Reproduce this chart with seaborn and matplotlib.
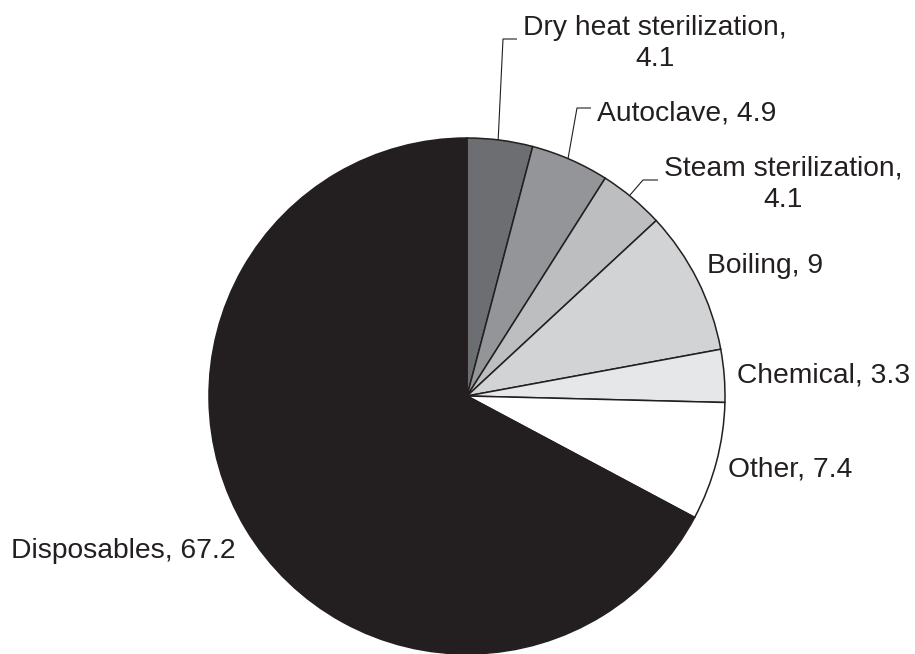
import numpy as np
import matplotlib
matplotlib.use("Agg")
import matplotlib.pyplot as plt
import seaborn as sns

# ---- data ----
categories = ["Dry heat sterilization", "Autoclave", "Steam sterilization",
              "Boiling", "Chemical", "Other", "Disposables"]
values = [4.1, 4.9, 4.1, 9, 3.3, 7.4, 67.2]
label_texts = ["Dry heat sterilization,\n4.1", "Autoclave, 4.9",
               "Steam sterilization,\n4.1", "Boiling, 9", "Chemical, 3.3",
               "Other, 7.4", "Disposables, 67.2"]
colors = ["#6d6e71", "#939598", "#bcbec0", "#d1d3d4", "#e6e7e8",
          "#ffffff", "#231f20"]

sns.set_style("white")
plt.rcParams['font.family'] = ['Liberation Sans', 'DejaVu Sans']

W, H = 915, 654
fig = plt.figure(figsize=(W / 100, H / 100), dpi=100)
ax = fig.add_axes([0, 0, 1, 1])

def Y(py):
    return H - py

cx, cy, r = 467, Y(396), 258
ink = "#231f20"

wedges, _ = ax.pie(values, colors=colors, startangle=90, counterclock=False,
                   center=(cx, cy), radius=r, frame=True,
                   wedgeprops=dict(edgecolor=ink, linewidth=1.1))
ax.set_xlim(0, W)
ax.set_ylim(0, H)
ax.set_aspect("equal")
ax.axis("off")

# label positions (pixel coords): (x, baseline y of last line, ha)
label_pos = [
    (655, 66, "center"),
    (597, 121, "left"),
    (783, 207, "center"),
    (707, 273, "left"),
    (737, 382, "left"),
    (728, 476, "left"),
    (11, 558, "left"),
]
fs = 20.3
for (x, by, ha), txt in zip(label_pos, label_texts):
    ax.text(x, Y(by), txt, ha=ha, va="baseline", fontsize=fs, color=ink,
            linespacing=1.27, multialignment="center")

# leader lines for the three small top slices (elbow points, pixel coords)
leaders = {
    0: [(503, 39), (517, 39)],
    1: [(577, 108), (591, 108)],
    2: [(643, 180), (658, 180)],
}
start_frac = {0: 0.53, 1: 0.53, 2: 0.55}
for i, pts in leaders.items():
    w = wedges[i]
    t = w.theta1 + (w.theta2 - w.theta1) * start_frac[i]
    ang = np.deg2rad(t)
    sx = cx + r * np.cos(ang)
    sy = cy + r * np.sin(ang)
    xs = [sx] + [p[0] for p in pts]
    ys = [sy] + [Y(p[1]) for p in pts]
    ax.plot(xs, ys, color=ink, linewidth=0.8, solid_capstyle="butt")

fig.savefig("out.png", dpi=100, facecolor="white")
